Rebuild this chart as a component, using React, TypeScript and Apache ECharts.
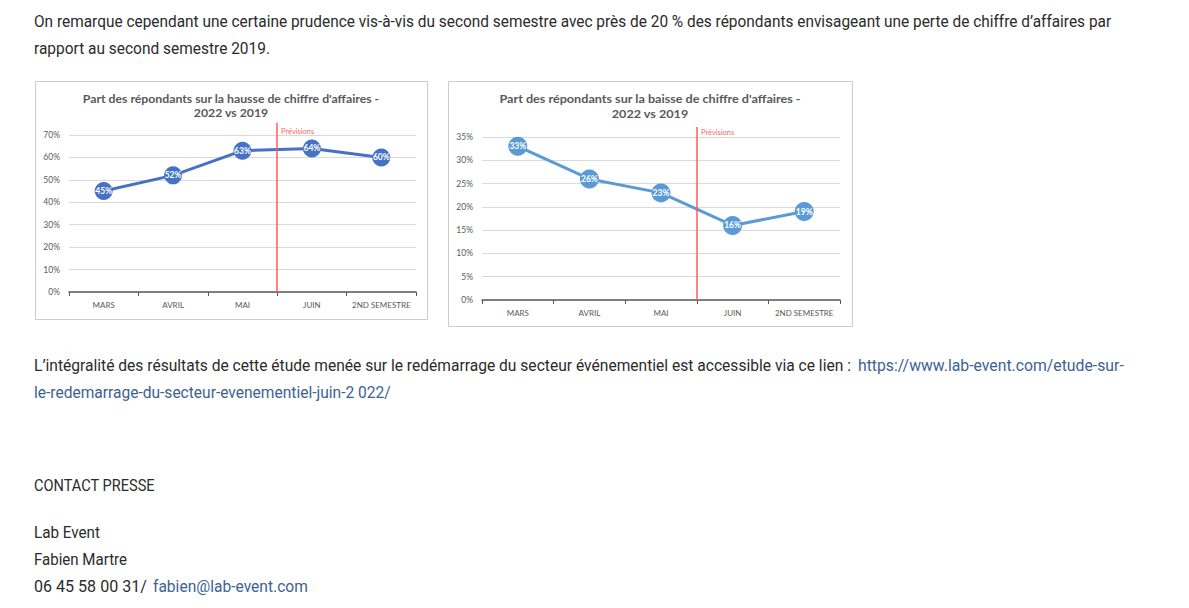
import React, { useEffect, useRef } from 'react';
import * as echarts from 'echarts';

// ---------- data ----------
const categories = ['MARS', 'AVRIL', 'MAI', 'JUIN', '2ND SEMESTRE'];
const hausseValues = [45, 52, 63, 64, 60];
const baisseValues = [33, 26, 23, 16, 19];
const hausseAxis = { max: 70, step: 10 };
const baisseAxis = { max: 35, step: 5 };
const forecastLabel = 'Prévisions';
const forecastStartCategory = 'JUIN';
const lastActualCategory = 'MAI';

const titleHausse = ["Part des répondants sur la hausse de chiffre d'affaires -", '2022 vs 2019'];
const titleBaisse = ["Part des répondants sur la baisse de chiffre d'affaires -", '2022 vs 2019'];

const para1 = [
  "On remarque cependant une certaine prudence vis-à-vis du second semestre avec près de 20 % des répondants envisageant une perte de chiffre d’affaires par",
  'rapport au second semestre 2019.',
];
const para2Text = "L’intégralité des résultats de cette étude menée sur le redémarrage du secteur événementiel est accessible via ce lien :";
const para2Link1 = 'https://www.lab-event.com/etude-sur-';
const para2Link2 = 'le-redemarrage-du-secteur-evenementiel-juin-2 022/';
const contactTitle = 'CONTACT PRESSE';
const contactLines = ['Lab Event', 'Fabien Martre'];
const phone = '06 45 58 00 31/';
const email = 'fabien@lab-event.com';

// ---------- styles ----------
const BODY_FAMILY = 'Roboto, "Liberation Sans", sans-serif';
const BODY_SIZE = 17;
const TEXT_COLOR = '#2b2b2b';
const LINK_COLOR = '#3d6293';
const CHART_FONT = 'Lato, "Liberation Sans", sans-serif';
const AXIS_COLOR = '#595959';
const FORECAST_COLOR = '#ff5c5c';

let measureCtx: CanvasRenderingContext2D | null = null;
function measure(text: string, font: string): number {
  if (!measureCtx) measureCtx = document.createElement('canvas').getContext('2d');
  measureCtx!.font = font;
  return measureCtx!.measureText(text).width;
}

function bodyText(text: string, x: number, baseline: number, right: number, color: string) {
  const w = measure(text, `${BODY_SIZE}px ${BODY_FAMILY}`);
  return {
    type: 'text',
    x,
    y: baseline - 5.5,
    scaleX: (right - x) / w,
    silent: true,
    style: {
      text,
      x: 0,
      y: 0,
      fill: color,
      fontSize: BODY_SIZE,
      fontFamily: BODY_FAMILY,
      align: 'left',
      verticalAlign: 'middle',
    },
  };
}

function titleTexts(lines: string[], cx: number, ys: number[], width: number) {
  const font = `bold 11px ${CHART_FONT}`;
  const s = width / measure(lines[0], font);
  return lines.map((t, i) => ({
    type: 'text',
    x: cx,
    y: ys[i],
    scaleX: s,
    silent: true,
    style: {
      text: t,
      x: 0,
      y: 0,
      fill: AXIS_COLOR,
      fontSize: 11,
      fontWeight: 'bold',
      fontFamily: CHART_FONT,
      align: 'center',
      verticalAlign: 'middle',
    },
  }));
}

function xAxisFor(i: number) {
  return {
    type: 'category',
    gridIndex: i,
    data: categories,
    boundaryGap: true,
    axisLine: { show: true, lineStyle: { color: AXIS_COLOR, width: 1.5 } },
    axisTick: { show: true, length: 4, interval: 0, lineStyle: { color: AXIS_COLOR, width: 1 } },
    axisLabel: { fontSize: 8, color: AXIS_COLOR, fontFamily: CHART_FONT, margin: 9, interval: 0 },
    splitLine: { show: false },
  };
}

function yAxisFor(i: number, ax: { max: number; step: number }) {
  return {
    type: 'value',
    gridIndex: i,
    min: 0,
    max: ax.max,
    interval: ax.step,
    axisLine: { show: false },
    axisTick: { show: false },
    axisLabel: { formatter: '{value}%', fontSize: 8.5, color: AXIS_COLOR, fontFamily: CHART_FONT, margin: 9 },
    splitLine: { show: true, lineStyle: { color: '#d9d9d9', width: 1 } },
  };
}

function seriesFor(i: number, values: number[], color: string, size: number) {
  return {
    type: 'line',
    xAxisIndex: i,
    yAxisIndex: i,
    data: values,
    symbol: 'circle',
    symbolSize: size,
    lineStyle: { color, width: 3 },
    itemStyle: { color },
    label: {
      show: true,
      position: 'inside',
      formatter: '{c}%',
      color: '#ffffff',
      fontSize: 8.5,
      fontWeight: 'bold',
      fontFamily: CHART_FONT,
    },
    z: 3,
  };
}

export default function App() {
  const ref = useRef<HTMLDivElement>(null);
  useEffect(() => {
    if (!ref.current) return;
    const chart = echarts.init(ref.current, undefined, { renderer: 'svg' });
    chart.setOption({
      animation: false,
      backgroundColor: '#ffffff',
      grid: [
        { left: 69, top: 135, width: 347, height: 157 },
        { left: 482, top: 137, width: 358, height: 163 },
      ],
      xAxis: [xAxisFor(0), xAxisFor(1)],
      yAxis: [yAxisFor(0, hausseAxis), yAxisFor(1, baisseAxis)],
      series: [
        seriesFor(0, hausseValues, '#4472c4', 18),
        seriesFor(1, baisseValues, '#5b9bd5', 19),
      ],
    });

    const forecast = (i: number, ax: { max: number }, above: number, labelDy: number) => {
      const a = chart.convertToPixel({ xAxisIndex: i }, lastActualCategory) as number;
      const b = chart.convertToPixel({ xAxisIndex: i }, forecastStartCategory) as number;
      const x = Math.round((a + b) / 2);
      const yBottom = chart.convertToPixel({ yAxisIndex: i }, 0) as number;
      const yTop = (chart.convertToPixel({ yAxisIndex: i }, ax.max) as number) - above;
      return [
        {
          type: 'rect',
          z: 10,
          silent: true,
          shape: { x: x - 0.75, y: yTop, width: 1.5, height: yBottom - yTop },
          style: { fill: FORECAST_COLOR, stroke: 'none' },
        },
        {
          type: 'text',
          z: 10,
          silent: true,
          x: x + 4,
          y: yTop + labelDy,
          style: {
            text: forecastLabel,
            fill: '#ff6464',
            fontSize: 7.5,
            fontFamily: CHART_FONT,
            align: 'left',
            verticalAlign: 'middle',
          },
        },
      ];
    };

    const graphics: any[] = [
      // chart frames
      { type: 'rect', silent: true, z: 0, shape: { x: 35.5, y: 81.5, width: 392, height: 238 }, style: { fill: 'none', stroke: '#cccccc', lineWidth: 1 } },
      { type: 'rect', silent: true, z: 0, shape: { x: 448.5, y: 81.5, width: 404, height: 245 }, style: { fill: 'none', stroke: '#cccccc', lineWidth: 1 } },
      ...titleTexts(titleHausse, 231, [99, 113], 297),
      ...titleTexts(titleBaisse, 650, [99, 114], 302),
      ...forecast(0, hausseAxis, 12, 8),
      ...forecast(1, baisseAxis, 10, 5),
      // page text
      bodyText(para1[0], 34, 27, 1112, TEXT_COLOR),
      bodyText(para1[1], 34, 54, 270, TEXT_COLOR),
      bodyText(para2Text, 34, 371, 852, TEXT_COLOR),
      bodyText(para2Link1, 858, 371, 1124, LINK_COLOR),
      bodyText(para2Link2, 34, 398, 391, LINK_COLOR),
      bodyText(contactTitle, 34, 491, 155, TEXT_COLOR),
      bodyText(contactLines[0], 34, 538, 100, TEXT_COLOR),
      bodyText(contactLines[1], 34, 565, 127, TEXT_COLOR),
      bodyText(phone, 34, 592, 147, TEXT_COLOR),
      bodyText(email, 153, 592, 308, LINK_COLOR),
    ];
    chart.setOption({ graphic: graphics });

    return () => chart.dispose();
  }, []);

  return (
    <div
      ref={ref}
      style={{ position: 'fixed', left: 0, top: 0, width: 1189, height: 608, background: '#ffffff' }}
    />
  );
}
